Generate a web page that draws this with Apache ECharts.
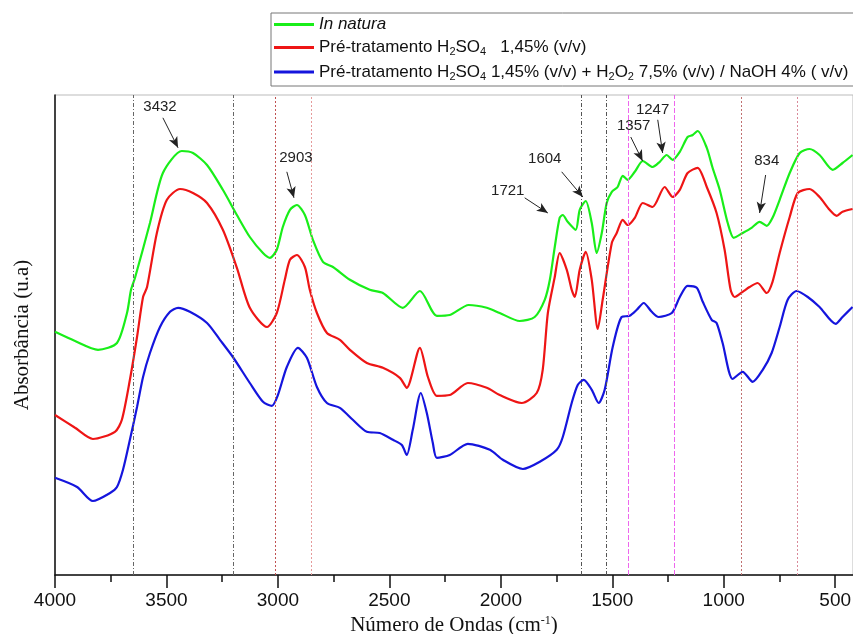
<!DOCTYPE html>
<html>
<head>
<meta charset="utf-8">
<script src="https://cdn.jsdelivr.net/npm/echarts@6/dist/echarts.min.js"></script>
<style>
  html, body { margin: 0; padding: 0; background: #fff; }
  #chart { width: 853px; height: 634px; }
</style>
</head>
<body>
<div id="chart"></div>
<script>
// espectros FTIR (número de onda, absorbância em u.a.)
const inNatura = [
  [4000, 0.608], [3910, 0.585], [3807, 0.563], [3722, 0.580], [3677, 0.655], [3659, 0.713],
  [3641, 0.743], [3574, 0.880], [3516, 1.005], [3431, 1.060], [3381, 1.055], [3318, 1.025],
  [3247, 0.963], [3184, 0.900], [3126, 0.845], [3067, 0.805], [3036, 0.793], [3005, 0.813],
  [2978, 0.870], [2946, 0.913], [2915, 0.925], [2879, 0.900], [2843, 0.838], [2798, 0.783],
  [2753, 0.770], [2677, 0.738], [2588, 0.713], [2529, 0.705], [2440, 0.668], [2363, 0.710],
  [2287, 0.648], [2229, 0.650], [2144, 0.675], [2063, 0.668], [2005, 0.655], [1915, 0.635],
  [1848, 0.645], [1803, 0.688], [1780, 0.738], [1758, 0.820], [1736, 0.893], [1722, 0.900],
  [1700, 0.883], [1664, 0.863], [1646, 0.913], [1619, 0.935], [1592, 0.880], [1570, 0.805],
  [1547, 0.855], [1525, 0.930], [1502, 0.958], [1476, 0.970], [1453, 0.998], [1431, 0.988],
  [1399, 1.008], [1363, 1.035], [1319, 1.020], [1287, 1.033], [1256, 1.050], [1229, 1.038],
  [1197, 1.058], [1162, 1.095], [1139, 1.100], [1117, 1.110], [1076, 1.068], [1050, 1.018],
  [1018, 0.963], [982, 0.880], [955, 0.843], [915, 0.855], [875, 0.868], [839, 0.883],
  [807, 0.873], [781, 0.893], [749, 0.938], [704, 1.005], [659, 1.055], [615, 1.065],
  [570, 1.050], [511, 1.013], [467, 1.030], [422, 1.050]
];

const acido = [
  [4000, 0.400], [3910, 0.368], [3830, 0.340], [3731, 0.358], [3700, 0.388], [3664, 0.488],
  [3632, 0.595], [3605, 0.695], [3587, 0.720], [3543, 0.855], [3498, 0.938], [3439, 0.965],
  [3381, 0.955], [3318, 0.930], [3247, 0.863], [3184, 0.768], [3126, 0.668], [3049, 0.620],
  [3005, 0.655], [2969, 0.738], [2946, 0.788], [2915, 0.800], [2879, 0.770], [2857, 0.713],
  [2825, 0.655], [2780, 0.605], [2722, 0.588], [2677, 0.563], [2601, 0.530], [2529, 0.518],
  [2453, 0.493], [2422, 0.468], [2363, 0.568], [2327, 0.495], [2287, 0.448], [2229, 0.450],
  [2148, 0.480], [2063, 0.468], [2005, 0.450], [1906, 0.430], [1839, 0.455], [1812, 0.513],
  [1789, 0.655], [1758, 0.745], [1736, 0.805], [1704, 0.763], [1682, 0.713], [1668, 0.695],
  [1646, 0.763], [1619, 0.808], [1592, 0.738], [1565, 0.615], [1543, 0.688], [1502, 0.830],
  [1480, 0.855], [1453, 0.888], [1431, 0.875], [1399, 0.893], [1363, 0.930], [1319, 0.920],
  [1265, 0.970], [1229, 0.945], [1197, 0.963], [1162, 1.005], [1117, 1.018], [1076, 0.970],
  [1032, 0.905], [996, 0.813], [969, 0.713], [951, 0.695], [915, 0.708], [884, 0.720],
  [848, 0.730], [807, 0.705], [781, 0.733], [749, 0.805], [704, 0.895], [668, 0.955],
  [615, 0.965], [570, 0.945], [525, 0.913], [493, 0.898], [467, 0.908], [422, 0.915]
];

const alcalino = [
  [4000, 0.243], [3901, 0.220], [3830, 0.185], [3753, 0.205], [3722, 0.220], [3695, 0.263],
  [3664, 0.338], [3632, 0.420], [3605, 0.495], [3574, 0.555], [3529, 0.620], [3484, 0.658],
  [3448, 0.668], [3395, 0.658], [3318, 0.630], [3260, 0.588], [3202, 0.545], [3126, 0.480],
  [3067, 0.433], [3027, 0.423], [3000, 0.450], [2960, 0.520], [2910, 0.568], [2870, 0.543],
  [2825, 0.470], [2780, 0.430], [2722, 0.418], [2664, 0.388], [2601, 0.358], [2543, 0.355],
  [2484, 0.338], [2444, 0.325], [2422, 0.300], [2395, 0.363], [2359, 0.455], [2332, 0.405],
  [2305, 0.330], [2287, 0.293], [2229, 0.300], [2148, 0.328], [2049, 0.313], [1991, 0.288],
  [1901, 0.265], [1825, 0.283], [1749, 0.313], [1722, 0.345], [1682, 0.430], [1655, 0.475],
  [1628, 0.488], [1592, 0.463], [1561, 0.430], [1534, 0.463], [1498, 0.570], [1458, 0.645],
  [1422, 0.648], [1390, 0.663], [1359, 0.680], [1323, 0.658], [1292, 0.645], [1233, 0.655],
  [1197, 0.695], [1162, 0.723], [1121, 0.718], [1094, 0.683], [1054, 0.638], [1032, 0.630],
  [1005, 0.580], [960, 0.490], [915, 0.508], [870, 0.483], [825, 0.513], [785, 0.555],
  [749, 0.620], [713, 0.688], [673, 0.710], [623, 0.695], [570, 0.670], [498, 0.628],
  [467, 0.645], [422, 0.670]
];

const seriesNames = [
  'In natura',
  'Pré-tratamento H2SO4  1,45% (v/v)',
  'Pré-tratamento H2SO4 1,45% (v/v) + H2O2 7,5% (v/v) / NaOH 4% ( v/v)'
];
const legendRich = {
  'In natura': '{i|In natura}',
  'Pré-tratamento H2SO4  1,45% (v/v)': '{n|Pré-tratamento H}{s|2}{n|SO}{s|4}{n|   1,45% (v/v)}',
  'Pré-tratamento H2SO4 1,45% (v/v) + H2O2 7,5% (v/v) / NaOH 4% ( v/v)':
    '{n|Pré-tratamento H}{s|2}{n|SO}{s|4}{n| 1,45% (v/v) + H}{s|2}{n|O}{s|2}{n| 7,5% (v/v) / NaOH 4% ( v/v)}'
};

const majorTicks = [4000, 3500, 3000, 2500, 2000, 1500, 1000, 500];
const minorTicks = [3750, 3250, 2750, 2250, 1750, 1250, 750];

// linhas verticais de referência: [número de onda, cor, tipo]
const guides = [
  [3650, '#666', [4, 2, 1, 2]], [3202, '#666', [4, 2, 1, 2]],
  [3014, '#c05050', [2, 2]], [2852, '#e59a9a', [2, 2]],
  [1637, '#555', [4, 2, 1, 2]], [1525, '#555', [4, 2, 1, 2]],
  [1430, '#ee66ee', [5, 2]], [1220, '#ee66ee', [5, 2]],
  [920, '#c07070', [2, 2]], [670, '#d98a9a', [2, 2]]
];

// picos assinalados: [rótulo, posição do texto, início da seta, ponta da seta]
const peaks = [
  ['3432', [3529, 1.170], [3516, 1.143], [3448, 1.068]],
  ['2903', [2919, 1.043], [2960, 1.008], [2928, 0.943]],
  ['1721', [1969, 0.960], [1893, 0.943], [1789, 0.905]],
  ['1604', [1803, 1.040], [1727, 1.008], [1632, 0.945]],
  ['1357', [1404, 1.123], [1417, 1.095], [1364, 1.035]],
  ['1247', [1319, 1.163], [1296, 1.138], [1274, 1.055]],
  ['834', [807, 1.035], [812, 1.000], [839, 0.905]]
];

const colors = ['#19ee19', '#ee1515', '#1515dd'];

const chart = echarts.init(document.getElementById('chart'));

const curve = (name, data, color) => ({
  name,
  type: 'line',
  data,
  smooth: 0.25,
  showSymbol: false,
  lineStyle: { color, width: 2.2 },
  itemStyle: { color },
  z: 3
});

chart.setOption({
  animation: false,
  grid: {
    left: 55, right: 0, top: 95, bottom: 59,
    outerBoundsMode: 'none',
    show: true, borderColor: '#bbb', borderWidth: 1
  },
  legend: {
    data: seriesNames,
    orient: 'vertical',
    left: 271,
    top: 13,
    itemGap: 6,
    itemWidth: 40,
    itemHeight: 3,
    icon: 'rect',
    padding: [3, 8, 4, 3],
    borderColor: '#777',
    borderWidth: 1,
    backgroundColor: '#fff',
    formatter: name => legendRich[name],
    textStyle: {
      rich: {
        n: { fontFamily: 'Liberation Sans', fontSize: 17, color: '#111', lineHeight: 20 },
        i: { fontFamily: 'Liberation Sans', fontSize: 17, fontStyle: 'italic', color: '#111', lineHeight: 20 },
        s: { fontFamily: 'Liberation Sans', fontSize: 11, color: '#111', lineHeight: 9, verticalAlign: 'bottom' }
      }
    }
  },
  xAxis: [
    {
      type: 'value',
      inverse: true,
      min: 420,
      max: 4000,
      name: '{n|Número de Ondas (cm}{sup|-1}{n|)}',
      nameLocation: 'middle',
      nameGap: 35,
      nameTextStyle: {
        rich: {
          n: { fontFamily: 'Liberation Serif', fontSize: 21, color: '#111' },
          sup: { fontFamily: 'Liberation Serif', fontSize: 12, color: '#111', verticalAlign: 'top', lineHeight: 12 }
        }
      },
      axisLine: { lineStyle: { color: '#111', width: 1.5 } },
      axisTick: { customValues: majorTicks, length: 13, lineStyle: { color: '#111', width: 1.5 } },
      axisLabel: {
        customValues: majorTicks,
        formatter: v => String(v),
        margin: 16,
        fontFamily: 'Liberation Sans',
        fontSize: 19,
        color: '#111'
      },
      splitLine: { show: false }
    },
    {
      type: 'value',
      inverse: true,
      min: 420,
      max: 4000,
      position: 'bottom',
      axisLine: { show: false },
      axisTick: { customValues: minorTicks, length: 7, lineStyle: { color: '#111', width: 1.5 } },
      axisLabel: { show: false },
      splitLine: { show: false }
    }
  ],
  yAxis: {
    type: 'value',
    min: 0,
    max: 1.2,
    name: 'Absorbância (u.a)',
    nameLocation: 'middle',
    nameGap: 22,
    nameTextStyle: { fontFamily: 'Liberation Serif', fontSize: 21, color: '#111' },
    axisLine: { show: true, lineStyle: { color: '#111', width: 1.5 } },
    axisTick: { show: false },
    axisLabel: { show: false },
    splitLine: { show: false }
  },
  series: [
    curve(seriesNames[0], inNatura, colors[0]),
    curve(seriesNames[1], acido, colors[1]),
    curve(seriesNames[2], alcalino, colors[2]),
    {
      name: 'guias',
      type: 'line',
      data: [],
      z: 1,
      markLine: {
        silent: true,
        symbol: ['none', 'none'],
        label: { show: false },
        data: guides.map(([x, color, type]) => ({ xAxis: x, lineStyle: { color, type, width: 1 } }))
      }
    },
    {
      name: 'picos',
      type: 'line',
      data: [],
      z: 4,
      markLine: {
        silent: true,
        symbol: ['none', 'arrow'],
        symbolSize: 11,
        label: { show: false },
        lineStyle: { color: '#222', type: 'solid', width: 1 },
        itemStyle: { color: '#222' },
        data: peaks.map(p => [
          { coord: p[2], symbol: 'none' },
          { coord: p[3], symbol: 'arrow', symbolSize: [7, 11] }
        ])
      },
      markPoint: {
        silent: true,
        symbol: 'circle',
        symbolSize: 0,
        data: peaks.map(p => ({
          coord: p[1],
          label: {
            show: true,
            formatter: p[0],
            position: 'inside',
            fontFamily: 'Liberation Sans',
            fontSize: 15,
            color: '#222'
          }
        }))
      }
    }
  ]
});
</script>
</body>
</html>
